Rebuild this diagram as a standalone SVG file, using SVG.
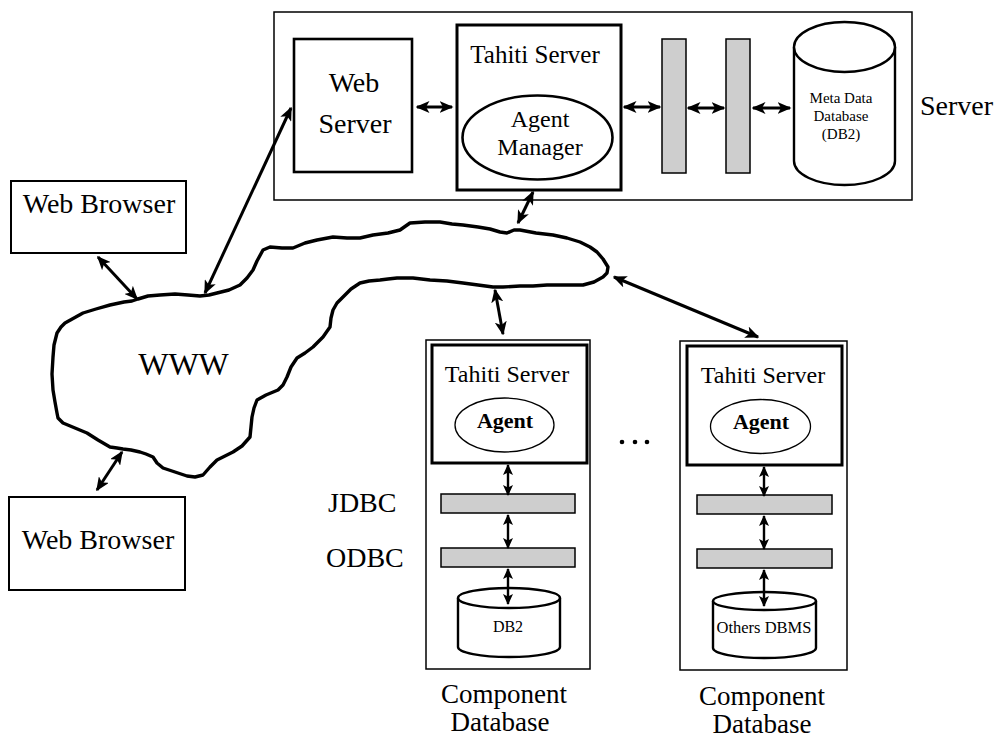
<svg xmlns="http://www.w3.org/2000/svg" width="1006" height="740" viewBox="0 0 1006 740">
  <style>
    text { font-family: "Liberation Serif", "Times New Roman", serif; fill: #000; }
    .box { fill: #fff; stroke: #000; stroke-width: 1.5; }
    .thick { fill: #fff; stroke: #000; stroke-width: 3; }
    .bar { fill: #cecece; stroke: #000; stroke-width: 1.5; }
    .cyl { fill: #fff; stroke: #000; stroke-width: 2.4; }
    .oval { fill: #fff; stroke: #000; stroke-width: 1.3; }
    .link { stroke: #000; stroke-width: 3; fill: none; marker-start: url(#ah); marker-end: url(#ah); }
    .small { stroke: #000; stroke-width: 2.4; fill: none; marker-start: url(#as); marker-end: url(#as); }
    .lbl { font-size: 28px; }
    .cap { font-size: 27px; }
    .mid { text-anchor: middle; }
  </style>
  <defs>
    <marker id="ah" viewBox="0 0 14 12" refX="12.5" refY="6" markerWidth="14" markerHeight="12" markerUnits="userSpaceOnUse" orient="auto-start-reverse">
      <path d="M0,0 L14,6 L0,12 L3.5,6 Z" fill="#000"/>
    </marker>
    <marker id="as" viewBox="0 0 11 10" refX="10" refY="5" markerWidth="11" markerHeight="10" markerUnits="userSpaceOnUse" orient="auto-start-reverse">
      <path d="M0,0 L11,5 L0,10 L2.5,5 Z" fill="#000"/>
    </marker>
  </defs>

  <rect width="1006" height="740" fill="#fff"/>

  <!-- Server site -->
  <g id="server">
    <rect class="box" x="274" y="12" width="638" height="188"/>
    <text class="lbl" x="920" y="115">Server</text>
  </g>

  <g id="web-server">
    <rect class="box" x="294" y="39" width="118" height="133" style="stroke-width:2.6"/>
    <text class="lbl mid" x="354" y="92">Web</text>
    <text class="lbl mid" x="355" y="133">Server</text>
  </g>

  <g id="tahiti-server-main">
    <rect class="thick" x="457" y="25" width="164" height="165"/>
    <text class="mid" x="535" y="63" font-size="25">Tahiti Server</text>
  </g>

  <g id="agent-manager">
    <ellipse class="oval" cx="537.5" cy="137.5" rx="75" ry="42" style="stroke-width:2.6"/>
    <text class="mid" x="540" y="127" font-size="24">Agent</text>
    <text class="mid" x="540" y="155" font-size="24">Manager</text>
  </g>

  <g id="bridge-1">
    <rect class="bar" x="662" y="39" width="24" height="134"/>
  </g>
  <g id="bridge-2">
    <rect class="bar" x="726" y="39" width="24" height="134"/>
  </g>

  <g id="meta-data-db">
    <path class="cyl" d="M794,47 A50.5,25 0 0 1 895,47 L895,161 A50.5,24 0 0 1 794,161 Z"/>
    <path class="cyl" d="M794,47 A50.5,25 0 0 0 895,47" fill="none"/>
    <text class="mid" x="841" y="103" font-size="15">Meta Data</text>
    <text class="mid" x="841" y="121" font-size="15">Database</text>
    <text class="mid" x="841" y="139" font-size="15">(DB2)</text>
  </g>

  <!-- Browsers -->
  <g id="web-browser-1">
    <rect class="box" x="11" y="181" width="175" height="72" style="stroke-width:2"/>
    <text class="lbl mid" x="99" y="213">Web Browser</text>
  </g>
  <g id="web-browser-2">
    <rect class="box" x="9" y="497" width="176" height="93" style="stroke-width:2"/>
    <text class="lbl mid" x="98" y="549">Web Browser</text>
  </g>

  <!-- Internet cloud -->
  <g id="www">
    <path fill="#fff" stroke="#000" stroke-width="3.4" stroke-linejoin="round" d="
      M53,357 L54,345 L57,333 L61,327 L65,323 L74,318 L83,313 L96,309 L110,305 L124,302 L132,301 L138,299
      L148,296 L160,295 L175,294 L188,295 L200,296 L209,295 L217,293 L229,290 L240,285 L247,278 L253,270
      L257,261 L263,250 L270,247 L282,248 L293,248 L305,243 L317,240 L333,237 L347,238 L360,238 L373,235
      L388,233 L400,230 L410,223 L425,222 L440,222 L452,224 L463,225 L478,227 L490,229 L500,232 L507,233
      L514,230 L520,230 L536,233 L553,235 L567,238 L580,242 L590,247 L597,252 L603,259 L608,267 L607,273
      L603,277 L594,282 L583,285 L566,285 L547,285 L533,286 L520,286 L503,287 L493,287 L478,285 L463,283
      L447,281 L430,280 L413,278 L397,278 L388,279 L380,280 L369,281 L360,283 L351,289 L343,297 L337,303
      L333,310 L331,318 L330,327 L323,337 L313,347 L305,353 L297,358 L291,367 L287,377 L283,385 L278,390
      L266,395 L257,400 L254,408 L252,417 L251,427 L250,437 L242,446 L233,452 L225,456 L217,460 L210,467
      L203,475 L195,477 L187,476 L175,472 L163,468 L157,463 L153,457 L146,454 L140,452 L131,450 L123,449
      L117,448 L110,447 L98,440 L87,433 L75,428 L63,423 L58,418 L57,413 L55,402 L53,390 L52,374 Z"/>
    <text x="183.5" y="375" text-anchor="middle" font-size="32">WWW</text>
  </g>

  <!-- Component database 1 -->
  <g id="component-db-1">
    <rect class="box" x="426" y="340" width="164" height="329"/>
    <rect class="thick" x="432" y="345" width="155" height="118"/>
    <text class="mid" x="507" y="382" font-size="24">Tahiti Server</text>
    <ellipse class="oval" cx="504.5" cy="425" rx="49.5" ry="27"/>
    <text class="mid" x="505" y="428" font-size="22" font-weight="bold">Agent</text>
    <rect class="bar" x="441" y="494" width="134" height="19"/>
    <rect class="bar" x="441" y="548" width="134" height="19"/>
    <path class="cyl" d="M458,598 A51,10 0 0 1 560,598 L560,647 A51,10 0 0 1 458,647 Z"/>
    <path class="cyl" d="M458,598 A51,10 0 0 0 560,598" fill="none"/>
    <text class="mid" x="508" y="632" font-size="16">DB2</text>
    <text class="cap mid" x="504" y="703">Component</text>
    <text class="cap mid" x="500" y="731">Database</text>
  </g>

  <!-- Component database 2 -->
  <g id="component-db-2">
    <rect class="box" x="680" y="341" width="167" height="329"/>
    <rect class="thick" x="687" y="346" width="155" height="119"/>
    <text class="mid" x="763" y="383" font-size="24">Tahiti Server</text>
    <ellipse class="oval" cx="760.5" cy="426.5" rx="50" ry="27"/>
    <text class="mid" x="761" y="429" font-size="22" font-weight="bold">Agent</text>
    <rect class="bar" x="697" y="495" width="135" height="19"/>
    <rect class="bar" x="697" y="549" width="135" height="19"/>
    <path class="cyl" d="M713,601 A51.5,9 0 0 1 816,601 L816,648 A51.5,10 0 0 1 713,648 Z"/>
    <path class="cyl" d="M713,601 A51.5,9 0 0 0 816,601" fill="none"/>
    <text class="mid" x="764" y="633" font-size="16.5">Others DBMS</text>
    <text class="cap mid" x="762" y="705">Component</text>
    <text class="cap mid" x="762" y="733">Database</text>
  </g>

  <!-- Interface labels and ellipsis -->
  <g id="labels">
    <text class="lbl" x="328" y="512">JDBC</text>
    <text class="lbl" x="326" y="567">ODBC</text>
    <circle cx="622" cy="442" r="2.3"/>
    <circle cx="635" cy="442" r="2.3"/>
    <circle cx="647" cy="442" r="2.3"/>
  </g>

  <!-- Connectors -->
  <g id="connectors">
    <line class="link" x1="417" y1="107" x2="452" y2="107"/>
    <line class="link" x1="624" y1="107" x2="660" y2="107"/>
    <line class="link" x1="688" y1="108" x2="724" y2="108"/>
    <line class="link" x1="753" y1="108" x2="790" y2="108"/>
    <line class="link" x1="98" y1="257" x2="137" y2="299"/>
    <line class="link" x1="205" y1="293" x2="291" y2="108"/>
    <line class="link" x1="122" y1="452" x2="97" y2="490"/>
    <line class="link" x1="533" y1="192" x2="518" y2="223"/>
    <line class="link" x1="495" y1="290" x2="503" y2="334"/>
    <line class="link" x1="614" y1="277" x2="758" y2="337"/>
    <line class="small" x1="508" y1="465" x2="508" y2="495"/>
    <line class="small" x1="508" y1="515" x2="508" y2="548"/>
    <line class="small" x1="508" y1="569" x2="508" y2="604"/>
    <line class="small" x1="764" y1="467" x2="764" y2="496"/>
    <line class="small" x1="764" y1="516" x2="764" y2="549"/>
    <line class="small" x1="764" y1="570" x2="764" y2="606"/>
  </g>
</svg>
